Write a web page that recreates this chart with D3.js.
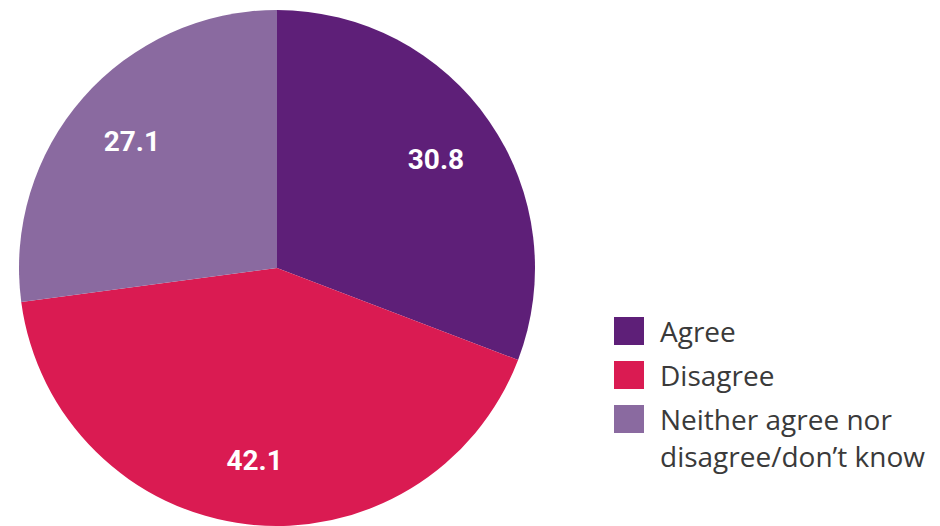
<!DOCTYPE html>
<html lang="en">
<head>
	<meta charset="utf-8"/>
	<title>Agree / Disagree pie</title>
	<script src="https://d3js.org/d3.v7.min.js"></script>
	<style>
		body { margin: 0; background: #fff; }
	</style>
</head>
<body>
	<script>
// data
	var categories = ["Agree", "Disagree", "Neither agree nor disagree/don\u2019t know"];
	var values = [30.8, 42.1, 27.1];
	var legendLines = [["Agree"], ["Disagree"], ["Neither agree nor", "disagree/don\u2019t know"]];
	var colours = ["#5e1f78", "#da1b52", "#8a6aa0"];

	var w = 940;
	var h = 526;
	var cx = 277, cy = 268, r = 258;

	var colour = d3.scaleOrdinal().domain(categories).range(colours);

	var svg = d3.select("body")
				.append("svg")
				.attr("width", w)
				.attr("height", h);

	var pie = d3.pie().sort(null).value(function(d) {return d.value;}); // keep order, start at 12 o'clock
	var arcs = pie(categories.map(function(c, i) {return {name: c, value: values[i]};}));

	var arc = d3.arc().innerRadius(0).outerRadius(r);
	var labelArc = d3.arc().innerRadius(193).outerRadius(193);

	var g = svg.append("g").attr("transform", "translate(" + cx + "," + cy + ")");

// slices
	g.selectAll("path")
		.data(arcs)
		.enter()
		.append("path")
		.attr("d", arc)
		.attr("fill", function(d) {return colour(d.data.name);});

// value labels
	g.selectAll("text")
		.data(arcs)
		.enter()
		.append("text")
		.attr("transform", function(d) {return "translate(" + labelArc.centroid(d) + ")";})
		.attr("text-anchor", "middle")
		.attr("dy", "0.36em")
		.attr("font-family", "Roboto, sans-serif")
		.attr("font-weight", "bold")
		.attr("font-size", "28px")
		.attr("fill", "#fff")
		.text(function(d) {return d.data.value.toFixed(1);});

// legend
	var legendY = [317, 361, 405];
	var legend = svg.selectAll(".legend")
		.data(categories)
		.enter()
		.append("g")
		.attr("class", "legend")
		.attr("transform", function(d, i) {return "translate(614," + legendY[i] + ")";});

	legend.append("rect")
		.attr("width", 30)
		.attr("height", 28)
		.attr("fill", function(d) {return colour(d);});

	legend.append("text")
		.attr("x", 46)
		.attr("y", 25)
		.attr("font-family", "'Open Sans', sans-serif")
		.attr("font-size", "28px")
		.attr("fill", "#3a3a3a")
		.selectAll("tspan")
		.data(function(d, i) {return legendLines[i];})
		.enter()
		.append("tspan")
		.attr("x", 46)
		.attr("dy", function(d, j) {return j === 0 ? 0 : 37;})
		.text(function(d) {return d;});
	</script>
</body>
</html>
